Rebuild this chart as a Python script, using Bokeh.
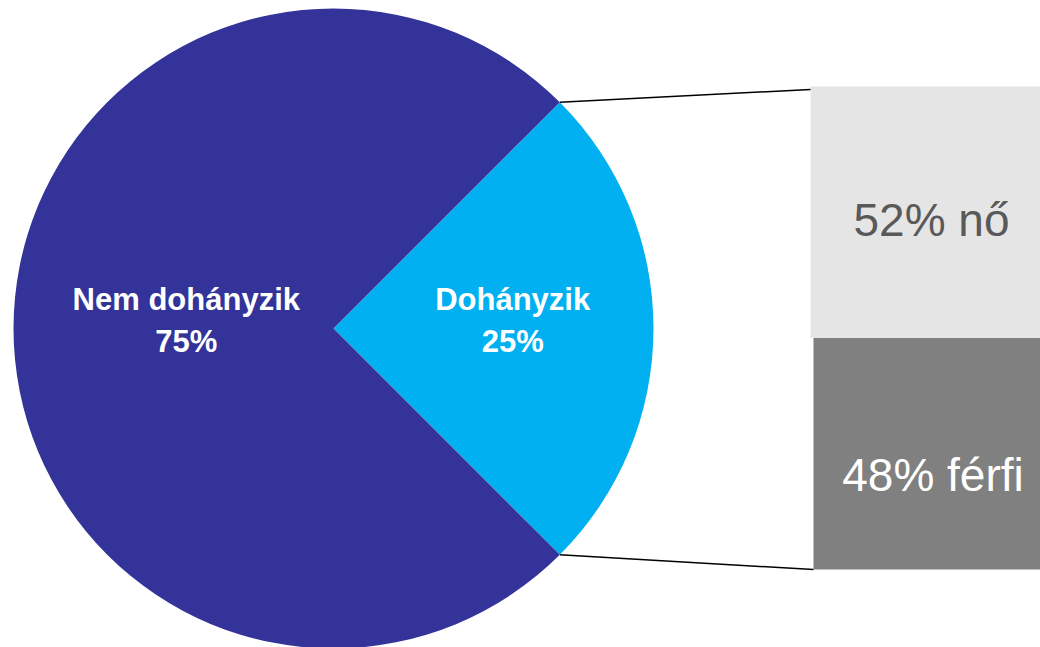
import math
from bokeh.plotting import figure
from bokeh.models import Range1d, ColumnDataSource
from bokeh.embed import file_html
from bokeh.resources import INLINE
from bokeh.core.properties import value

# ---- data ----
pie_labels = ["Dohányzik", "Nem dohányzik"]
pie_values = [25, 75]
pie_colors = ["#00b0f0", "#333399"]

bar_labels = ["férfi", "nő"]          # bottom to top
bar_values = [48, 52]
bar_colors = ["#808080", "#e5e5e5"]
bar_text_colors = ["#ffffff", "#595959"]

# ---- layout (screen-like data units, y up) ----
W, H = 1040, 647
X0, X1 = 0, W
Y0, Y1 = 0, H
CX, CY, R = 333, 319, 320
BAR_L = [813, 810]
BAR_R = 1052
BAR_B, BAR_T = 78, 561
BAR_TEXT_DY = [21, 8]

p = figure(width=W, height=H, x_range=Range1d(X0, X1), y_range=Range1d(Y0, Y1),
           x_axis_type=None, y_axis_type=None, toolbar_location=None,
           output_backend="svg", min_border=0, outline_line_color=None)
p.min_border_left = p.min_border_right = p.min_border_top = p.min_border_bottom = 0

# bar range: 0..100 maps to BAR_B..BAR_T
scale = (BAR_T - BAR_B) / 100.0
p.extra_y_ranges = {"bar": Range1d((Y0 - BAR_B) / scale, (Y1 - BAR_B) / scale)}

# ---- pie ----
total = sum(pie_values)
start = -math.pi * pie_values[0] / total
starts, ends = [], []
a = start
for v in pie_values:
    starts.append(a)
    a += 2 * math.pi * v / total
    ends.append(a)
pie_src = ColumnDataSource(dict(start=starts, end=ends, color=pie_colors))
p.wedge(x=CX, y=CY, radius=R, start_angle="start", end_angle="end",
        fill_color="color", line_color=None, source=pie_src)

label_dist = [0.56, 0.46]
lx, ly, lt = [], [], []
for i, (lab, v) in enumerate(zip(pie_labels, pie_values)):
    mid = (starts[i] + ends[i]) / 2
    lx.append(CX + label_dist[i] * R * math.cos(mid))
    ly.append(CY + 8 + label_dist[i] * R * math.sin(mid))
    lt.append(f"{lab}\n{v}%")
p.text(x=lx, y=ly, text=lt, text_align="center", text_baseline="middle",
       text_color="white", text_font=value("Liberation Sans"),
       text_font_style="bold", text_font_size="31px", text_line_height=1.18)

# ---- bar ----
bottoms, tops = [], []
c = 0
for v in bar_values:
    bottoms.append(c)
    c += v
    tops.append(c)
bar_src = ColumnDataSource(dict(left=BAR_L, right=[BAR_R] * 2, bottom=bottoms, top=tops,
                                color=bar_colors))
p.quad(left="left", right="right", bottom="bottom", top="top", fill_color="color",
       line_color=None, source=bar_src, y_range_name="bar")
txt_src = ColumnDataSource(dict(
    x=[(BAR_L[i] + BAR_R) / 2 for i in range(2)],
    y=[(b + t) / 2 for b, t in zip(bottoms, tops)],
    text=[f"{v}% {lab}" for lab, v in zip(bar_labels, bar_values)],
    color=bar_text_colors,
    dy=BAR_TEXT_DY,
))
p.text(x="x", y="y", text="text", text_color="color", y_offset="dy",
       text_align="center", text_baseline="middle",
       text_font=value("Liberation Sans"), text_font_size="46px",
       y_range_name="bar", source=txt_src)

# ---- connector lines ----
ex = CX + R * math.cos(ends[0])
ey_top = CY + R * math.sin(ends[0])
ey_bot = CY + R * math.sin(starts[0])
p.segment(x0=[ex, ex], y0=[ey_top, ey_bot], x1=[BAR_L[1], BAR_L[0]], y1=[BAR_T - 3, BAR_B],
          line_color="black", line_width=1.5)

open("out.html", "w").write(file_html(p, INLINE))
